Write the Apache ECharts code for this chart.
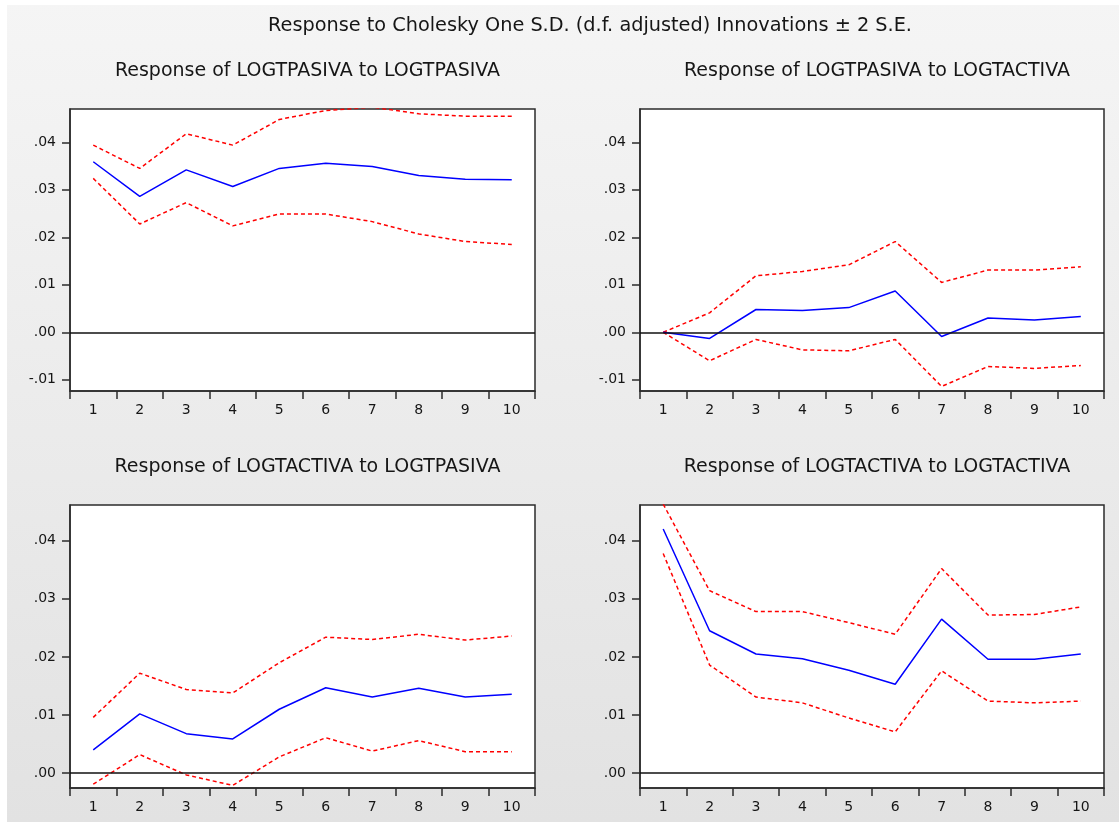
<!DOCTYPE html>
<html>
<head>
<meta charset="utf-8">
<script src="https://cdn.jsdelivr.net/npm/echarts@6/dist/echarts.min.js"></script>
<style>
  html, body { margin: 0; padding: 0; background: #fff; }
  #chart { width: 1119px; height: 822px; }
</style>
</head>
<body>
<div id="chart"></div>
<script>
// ---- Data ----
const periods = ['1', '2', '3', '4', '5', '6', '7', '8', '9', '10'];

// Response of LOGTPASIVA to LOGTPASIVA
const pasPasResp  = [0.0359, 0.0286, 0.0342, 0.0307, 0.0345, 0.0356, 0.0349, 0.0330, 0.0322, 0.0321];
const pasPasUpper = [0.0394, 0.0345, 0.0418, 0.0394, 0.0448, 0.0467, 0.0474, 0.0460, 0.0455, 0.0455];
const pasPasLower = [0.0324, 0.0228, 0.0273, 0.0224, 0.0249, 0.0249, 0.0233, 0.0207, 0.0191, 0.0185];

// Response of LOGTPASIVA to LOGTACTIVA
const pasActResp  = [0.0000, -0.0013, 0.0048, 0.0046, 0.0052, 0.0087, -0.0009, 0.0030, 0.0026, 0.0033];
const pasActUpper = [0.0000, 0.0041, 0.0119, 0.0128, 0.0142, 0.0191, 0.0105, 0.0131, 0.0131, 0.0138];
const pasActLower = [0.0000, -0.0060, -0.0015, -0.0037, -0.0039, -0.0015, -0.0114, -0.0072, -0.0076, -0.0070];

// Response of LOGTACTIVA to LOGTPASIVA
const actPasResp  = [0.0040, 0.0102, 0.0068, 0.0059, 0.0110, 0.0147, 0.0131, 0.0146, 0.0131, 0.0136];
const actPasUpper = [0.0096, 0.0172, 0.0144, 0.0138, 0.0190, 0.0234, 0.0230, 0.0239, 0.0229, 0.0236];
const actPasLower = [-0.0019, 0.0032, -0.0003, -0.0021, 0.0028, 0.0061, 0.0038, 0.0056, 0.0037, 0.0037];

// Response of LOGTACTIVA to LOGTACTIVA
const actActResp  = [0.0420, 0.0245, 0.0205, 0.0197, 0.0177, 0.0153, 0.0265, 0.0196, 0.0196, 0.0205];
const actActUpper = [0.0463, 0.0314, 0.0278, 0.0278, 0.0259, 0.0239, 0.0352, 0.0272, 0.0273, 0.0286];
const actActLower = [0.0378, 0.0186, 0.0131, 0.0121, 0.0095, 0.0071, 0.0176, 0.0124, 0.0121, 0.0124];

// Tick values of the y axes
const yTicksTop    = [-0.01, 0.00, 0.01, 0.02, 0.03, 0.04];
const yTicksBottom = [0.00, 0.01, 0.02, 0.03, 0.04];

const mainTitle = 'Response to Cholesky One S.D. (d.f. adjusted) Innovations \u00b1 2 S.E.';
const panelTitles = [
  'Response of LOGTPASIVA to LOGTPASIVA',
  'Response of LOGTPASIVA to LOGTACTIVA',
  'Response of LOGTACTIVA to LOGTPASIVA',
  'Response of LOGTACTIVA to LOGTACTIVA'
];

const panels = [
  { resp: pasPasResp, upper: pasPasUpper, lower: pasPasLower },
  { resp: pasActResp, upper: pasActUpper, lower: pasActLower },
  { resp: actPasResp, upper: actPasUpper, lower: actPasLower },
  { resp: actActResp, upper: actActUpper, lower: actActLower }
];

// ---- Layout ----
const FONT = '"DejaVu Sans", "Liberation Sans", Arial, sans-serif';
const TEXT = '#161616';
const grids = [
  { left: 70,  top: 109, width: 465, height: 282 },
  { left: 640, top: 109, width: 464, height: 282 },
  { left: 70,  top: 505, width: 465, height: 283 },
  { left: 640, top: 505, width: 464, height: 283 }
];
const yRanges = [
  { min: -0.01236, max: 0.04701, ticks: yTicksTop },
  { min: -0.01236, max: 0.04701, ticks: yTicksTop },
  { min: -0.00255, max: 0.04614, ticks: yTicksBottom },
  { min: -0.00255, max: 0.04614, ticks: yTicksBottom }
];

function fmt(v) {
  const s = Math.abs(v).toFixed(2).slice(1);
  return (v < -1e-9 ? '-' : '') + s;
}

const titles = [{
  text: mainTitle, left: 585, top: 11, textAlign: 'center',
  textStyle: { fontFamily: FONT, fontSize: 19.3, fontWeight: 'normal', color: TEXT }
}];
grids.forEach((g, i) => {
  titles.push({
    text: panelTitles[i], left: g.left + g.width / 2, top: i < 2 ? 57 : 453, textAlign: 'center',
    textStyle: { fontFamily: FONT, fontSize: 19, fontWeight: 'normal', color: TEXT }
  });
});

const xAxes = grids.map((g, i) => ({
  type: 'category', gridIndex: i, data: periods, boundaryGap: true,
  axisLine: { show: true, onZero: false, lineStyle: { color: '#2b2b2b', width: 1.5 } },
  axisTick: { show: true, length: 8, lineStyle: { color: '#2b2b2b', width: 1.5 } },
  axisLabel: { fontFamily: FONT, fontSize: 14, color: TEXT, margin: 12 },
  splitLine: { show: false }
}));

const yAxes = grids.map((g, i) => ({
  type: 'value', gridIndex: i, min: yRanges[i].min, max: yRanges[i].max,
  axisLine: { show: true, lineStyle: { color: '#2b2b2b', width: 1.5 } },
  axisTick: { show: true, length: 8, customValues: yRanges[i].ticks, lineStyle: { color: '#2b2b2b', width: 1.5 } },
  axisLabel: { fontFamily: FONT, fontSize: 14, color: TEXT, margin: 14, customValues: yRanges[i].ticks, formatter: fmt },
  splitLine: { show: false }
}));

const series = [];
panels.forEach((p, i) => {
  const dashed = { color: '#ff0000', width: 1.5, type: [4, 3] };
  series.push({ type: 'line', xAxisIndex: i, yAxisIndex: i, data: p.upper, symbol: 'none', lineStyle: dashed, silent: true, z: 2 });
  series.push({ type: 'line', xAxisIndex: i, yAxisIndex: i, data: p.lower, symbol: 'none', lineStyle: dashed, silent: true, z: 2 });
  series.push({
    type: 'line', xAxisIndex: i, yAxisIndex: i, data: p.resp, symbol: 'none', silent: true, z: 3,
    lineStyle: { color: '#0000ff', width: 1.5 },
    markLine: {
      silent: true, symbol: ['none', 'none'], label: { show: false },
      lineStyle: { color: '#111', width: 1.5, type: 'solid' },
      data: [{ yAxis: 0 }]
    }
  });
});

const chart = echarts.init(document.getElementById('chart'), null, { renderer: 'canvas' });
chart.setOption({
  animation: false,
  backgroundColor: {
    type: 'linear', x: 0, y: 0, x2: 0, y2: 1,
    colorStops: [{ offset: 0, color: '#f5f5f5' }, { offset: 1, color: '#e2e2e2' }]
  },
  graphic: [
    { type: 'rect', left: 0, top: 0, shape: { width: 7, height: 822 }, style: { fill: '#fff' }, z: -10, silent: true },
    { type: 'rect', left: 0, top: 0, shape: { width: 1119, height: 5 }, style: { fill: '#fff' }, z: -10, silent: true }
  ],
  title: titles,
  grid: grids.map(g => Object.assign({ show: true, backgroundColor: '#fff', borderColor: '#2b2b2b', borderWidth: 1.5, containLabel: false }, g)),
  xAxis: xAxes,
  yAxis: yAxes,
  series: series
});
</script>
</body>
</html>
